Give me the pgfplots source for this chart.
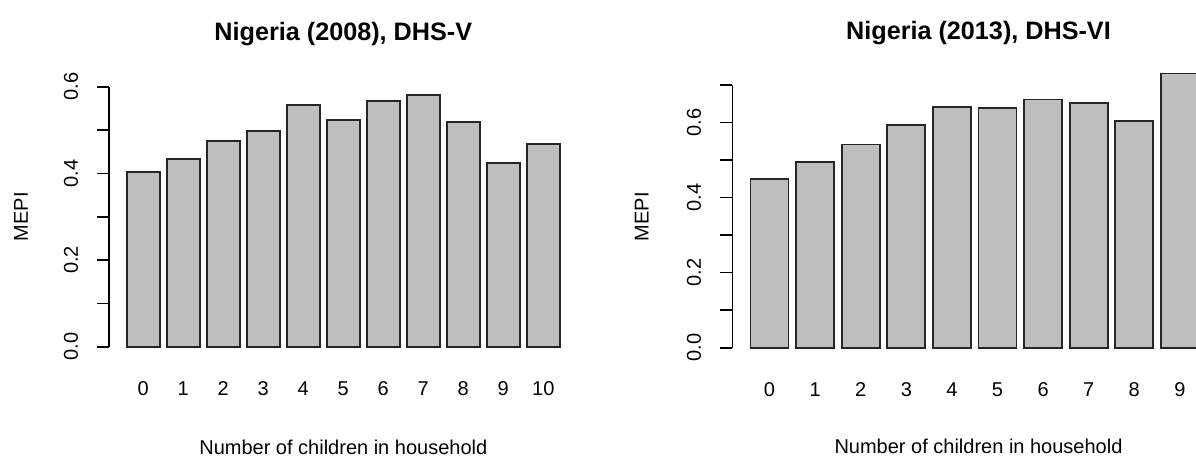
\documentclass[border=0pt]{standalone}
\usepackage{fontspec}
\setmainfont{Liberation Sans}
\usepackage{pgfplots}
\pgfplotsset{compat=1.18}

\definecolor{barfill}{HTML}{BEBEBE}

% MEPI by number of children in the household
\pgfplotstableread{
k mepi
0 0.403
1 0.434
2 0.474
3 0.498
4 0.557
5 0.524
6 0.567
7 0.581
8 0.518
9 0.424
10 0.467
}\dhsfive
\pgfplotstableread{
k mepi
0 0.449
1 0.495
2 0.541
3 0.592
4 0.642
5 0.638
6 0.661
7 0.651
8 0.604
9 0.730
}\dhssix

\pgfplotsset{
  rbar/.style={
    scale only axis,
    anchor=south west,
    clip=false,
    ybar,
    bar width=0.8333,
    axis line style={draw=none},
    tick align=outside,
    tickpos=left,
    major tick length=6pt,
    major tick style={black, line width=0.8pt},
    xtick style={draw=none},
    xtick=data,
    yticklabel style={xshift=-9.4pt, rotate=90, anchor=south, inner sep=0pt},
    xticklabel style={anchor=base, inner sep=0pt, yshift=-13.1pt},
    title style={at={(0.5,1)}, anchor=base, inner sep=0pt,
                 font=\bfseries\fontsize{12.6}{15}\selectfont},
    xlabel style={at={(0.5,0)}, anchor=base, inner sep=0pt},
    xlabel={Number of children in household},
    ylabel={MEPI},
  },
  rbarplot/.style={fill=barfill, draw=black!85, line width=0.9pt},
}

\begin{document}
\begin{tikzpicture}
\useasboundingbox (0,0) rectangle (598pt,228pt);
\clip (0,0) rectangle (598pt,228pt);

\begin{axis}[rbar,
  at={(54.65pt,49.6pt)},
  width=234pt, height=135.9pt,
  xmin=-0.85, xmax=10.85,
  ymin=-0.0232, ymax=0.604,
  ytick={0,0.1,0.2,0.3,0.4,0.5,0.6},
  yticklabels={0.0,,0.2,,0.4,,0.6},
  xticklabels={0,1,2,3,4,5,6,7,8,9,10},
  title={Nigeria (2008), DHS-V},
  title style={yshift=16.15pt},
  xlabel style={yshift=-48.6pt},
  ylabel style={at={(axis description cs:-0.1887,0.515)}, anchor=center},
]
\addplot[rbarplot] table[x=k, y=mepi] {\dhsfive};
\draw[line width=0.8pt] (axis cs:-0.85,0) -- (axis cs:-0.85,0.6);
\end{axis}

\begin{axis}[rbar,
  at={(366.15pt,48.65pt)},
  width=246.2pt, height=148.2pt,
  xmin=-0.8167, xmax=9.983,
  ymin=-0.0292, ymax=0.76,
  ytick={0,0.1,0.2,0.3,0.4,0.5,0.6,0.7},
  yticklabels={0.0,,0.2,,0.4,,0.6,},
  xticklabels={0,1,2,3,4,5,6,7,8,9},
  title={Nigeria (2013), DHS-VI},
  title style={yshift=5.15pt},
  xlabel style={yshift=-47.5pt},
  ylabel style={at={(axis description cs:-0.184,0.479)}, anchor=center},
]
\addplot[rbarplot] table[x=k, y=mepi] {\dhssix};
\draw[line width=0.8pt] (axis cs:-0.8167,0) -- (axis cs:-0.8167,0.7);
\end{axis}
\end{tikzpicture}
\end{document}
